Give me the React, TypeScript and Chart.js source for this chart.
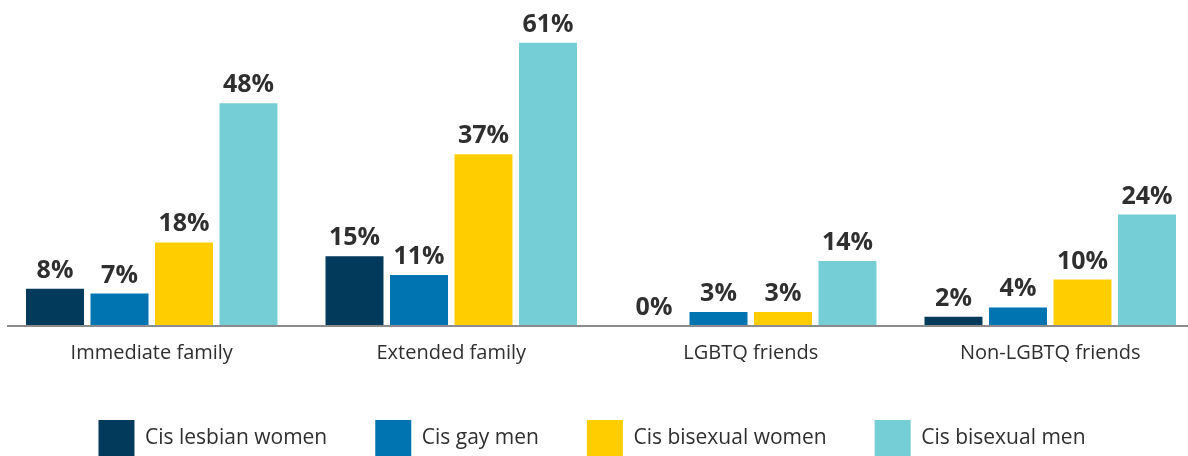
import React, { useEffect, useRef } from "react";
import { Chart, registerables } from "chart.js";

Chart.register(...registerables);

const categories = ["Immediate family", "Extended family", "LGBTQ friends", "Non-LGBTQ friends"];
const seriesLabels = ["Cis lesbian women", "Cis gay men", "Cis bisexual women", "Cis bisexual men"];
const lesbianWomen = [8, 15, 0, 2];
const gayMen = [7, 11, 3, 4];
const bisexualWomen = [18, 37, 3, 10];
const bisexualMen = [48, 61, 14, 24];
const seriesColors = ["#023a5c", "#0074b1", "#ffcd00", "#75cdd5"];

const FONT = '"Open Sans", "Noto Sans", sans-serif';
const TEXT = "#2f2f2f";

const labelPlugin = {
  id: "barValueLabels",
  afterDatasetsDraw(chart: any) {
    const ctx = chart.ctx;
    ctx.save();
    ctx.font = `bold 25px ${FONT}`;
    ctx.fillStyle = TEXT;
    ctx.textAlign = "center";
    ctx.textBaseline = "alphabetic";
    chart.data.datasets.forEach((ds: any, di: number) => {
      const meta = chart.getDatasetMeta(di);
      meta.data.forEach((el: any, i: number) => {
        ctx.fillText(`${ds.data[i]}%`, el.x, el.y - 11);
      });
    });
    ctx.restore();
  },
};

const axisLinePlugin = {
  id: "baseAxisLine",
  afterDatasetsDraw(chart: any) {
    const { ctx, chartArea } = chart;
    ctx.save();
    ctx.strokeStyle = "#8c8c8c";
    ctx.lineWidth = 2;
    ctx.beginPath();
    ctx.moveTo(23, chartArea.bottom);
    ctx.lineTo(chartArea.right, chartArea.bottom);
    ctx.stroke();
    ctx.restore();
  },
};

export default function App() {
  const ref = useRef<HTMLCanvasElement | null>(null);
  useEffect(() => {
    if (!ref.current) return;
    const series = [lesbianWomen, gayMen, bisexualWomen, bisexualMen];
    const chart = new Chart(ref.current, {
      type: "bar",
      data: {
        labels: categories,
        datasets: series.map((d, i) => ({
          label: seriesLabels[i],
          data: d,
          backgroundColor: seriesColors[i],
          borderWidth: 0,
          categoryPercentage: 0.8614,
          barPercentage: 0.899,
        })),
      },
      options: {
        responsive: false,
        animation: false,
        layout: { padding: { top: 1, bottom: 4, left: 0, right: 0 } },
        plugins: {
          tooltip: { enabled: false },
          legend: {
            position: "bottom",
            labels: {
              boxWidth: 36,
              boxHeight: 36,
              padding: 48,
              color: TEXT,
              font: { family: FONT, size: 21 },
            },
          },
        },
        scales: {
          x: {
            grid: { display: false },
            border: { display: false },
            ticks: { color: TEXT, font: { family: FONT, size: 20 }, padding: 7 },
            afterFit(s: any) {
              s.height = 46;
            },
          },
          y: {
            min: 0,
            max: 70,
            grid: { display: false },
            border: { display: false },
            ticks: { display: false },
            afterFit(s: any) {
              s.width = 18;
            },
          },
        },
      },
      plugins: [labelPlugin, axisLinePlugin],
    });
    return () => chart.destroy();
  }, []);
  return (
    <div style={{ position: "fixed", left: -16, top: 0, width: 1216, height: 470 }}>
      <canvas ref={ref} width={1216} height={470} style={{ display: "block" }} />
    </div>
  );
}
